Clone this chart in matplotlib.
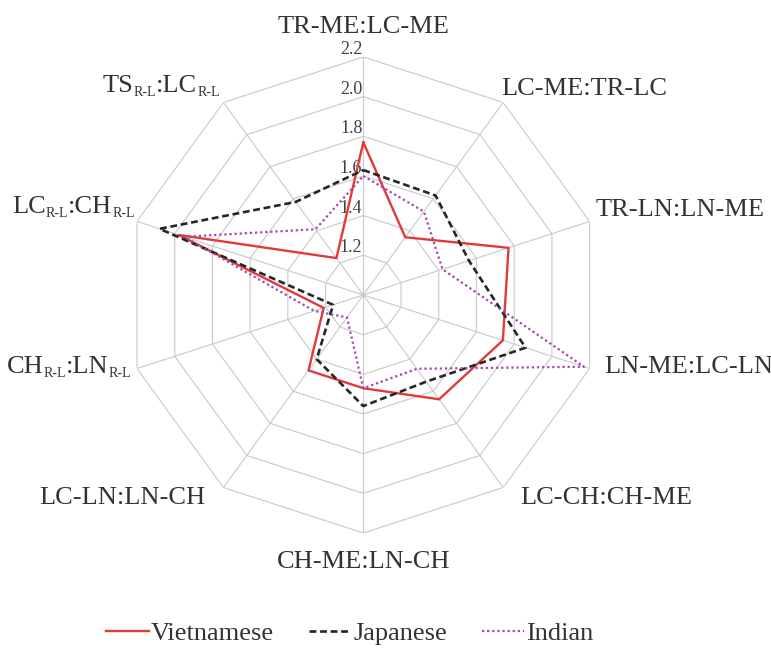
import numpy as np
import matplotlib
matplotlib.use("Agg")
import matplotlib.pyplot as plt

plt.rcParams['font.family'] = ['Liberation Serif', 'DejaVu Serif']

# ---------------- data ----------------
# each category label is a list of (text, is_subscript) pieces
categories = [
    [("TR-ME:LC-ME", False)],
    [("LC-ME:TR-LC", False)],
    [("TR-LN:LN-ME", False)],
    [("LN-ME:LC-LN", False)],
    [("LC-CH:CH-ME", False)],
    [("CH-ME:LN-CH", False)],
    [("LC-LN:LN-CH", False)],
    [("CH", False), ("R-L", True), (":LN", False), ("R-L", True)],
    [("LC", False), ("R-L", True), (":CH", False), ("R-L", True)],
    [("TS", False), ("R-L", True), (":LC", False), ("R-L", True)],
]
vietnamese = [1.77, 1.36, 1.77, 1.74, 1.65, 1.47, 1.47, 1.21, 1.98, 1.23]
japanese = [1.63, 1.62, 1.56, 1.86, 1.54, 1.56, 1.40, 1.16, 2.08, 1.58]
indian = [1.60, 1.52, 1.42, 2.17, 1.46, 1.47, 1.14, 1.26, 1.95, 1.41]
series_names = ["Vietnamese", "Japanese", "Indian"]
ring_values = [1.2, 1.4, 1.6, 1.8, 2.0, 2.2]
r_min, r_max = 1.0, 2.2

# ---------------- figure ----------------
W, H = 771, 655
fig = plt.figure(figsize=(W / 100, H / 100), dpi=100)
cx, cy, R = 363.3, 295.0, 238.0
ax = fig.add_axes([(cx - R) / W, (H - cy - R) / H, 2 * R / W, 2 * R / H],
                  projection='polar')
ax.set_theta_zero_location('N')
ax.set_theta_direction(-1)
ax.set_ylim(r_min, r_max)
ax.axis('off')

n = len(categories)
theta = np.arange(n) * 2 * np.pi / n
theta_c = np.append(theta, theta[0])

grid_color = '#c9c9c9'
for rv in ring_values:
    ax.plot(theta_c, [rv] * (n + 1), color=grid_color, lw=0.8, zorder=1)
for t in theta:
    ax.plot([t, t], [r_min, r_max], color=grid_color, lw=0.8, zorder=1)

# tick labels
for rv in ring_values:
    ax.annotate(f"{rv:.1f}", xy=(0, rv), xytext=(-1, 3), textcoords='offset pixels',
                ha='right', va='baseline', fontsize=13, color='#404040', zorder=2)

# series
styles = [
    dict(color='#e23a3a', lw=1.7, ls='-'),
    dict(color='#262626', lw=1.9, ls=(0, (2.6, 1.4))),
    dict(color='#a648a6', lw=1.6, ls=(0, (1, 1.3))),
]
for vals, name, st in zip([vietnamese, japanese, indian], series_names, styles):
    ax.plot(theta_c, vals + vals[:1], label=name, zorder=3, **st)

# category labels: (ha, dx, dy) in pixels relative to the outer vertex
label_pos = [
    ('center', 0, 24),
    ('left', -1.5, 7.5),
    ('left', 5.5, 5),
    ('left', 15, -4.5),
    ('left', 17, -16.5),
    ('center', 0, -34.5),
    ('right', -18, -16.5),
    ('right', -6, -4.5),
    ('right', -2, 8.5),
    ('right', -3.5, 10.5),
]
main_fs, sub_fs, sub_drop = 19, 10, 4
renderer = fig.canvas.get_renderer()


def piece_width(txt, fs):
    tmp = fig.text(0, 0, txt, fontsize=fs)
    w = tmp.get_window_extent(renderer).width
    tmp.remove()
    return w


for t, pieces, (ha, dx, dy) in zip(theta, categories, label_pos):
    widths = [piece_width(p, sub_fs if s else main_fs) for p, s in pieces]
    total = sum(widths)
    if ha == 'left':
        x0 = dx
    elif ha == 'right':
        x0 = dx - total
    else:
        x0 = dx - total / 2
    xoff = x0
    for (p, s), w in zip(pieces, widths):
        ax.annotate(p, xy=(t, r_max), xytext=(xoff, dy - (sub_drop if s else 0)),
                    textcoords='offset pixels', ha='left', va='baseline',
                    fontsize=sub_fs if s else main_fs, color='#333333',
                    annotation_clip=False)
        xoff += w

handles, labels = ax.get_legend_handles_labels()
leg = fig.legend(handles, labels, loc='center', bbox_to_anchor=(350 / W, 22 / H),
                 ncol=3, frameon=False, fontsize=19, handlelength=1.6,
                 handletextpad=0.1, columnspacing=1.3, borderpad=0,
                 borderaxespad=0)
for txt in leg.get_texts():
    txt.set_color('#333333')

fig.savefig('out.png', dpi=100)
